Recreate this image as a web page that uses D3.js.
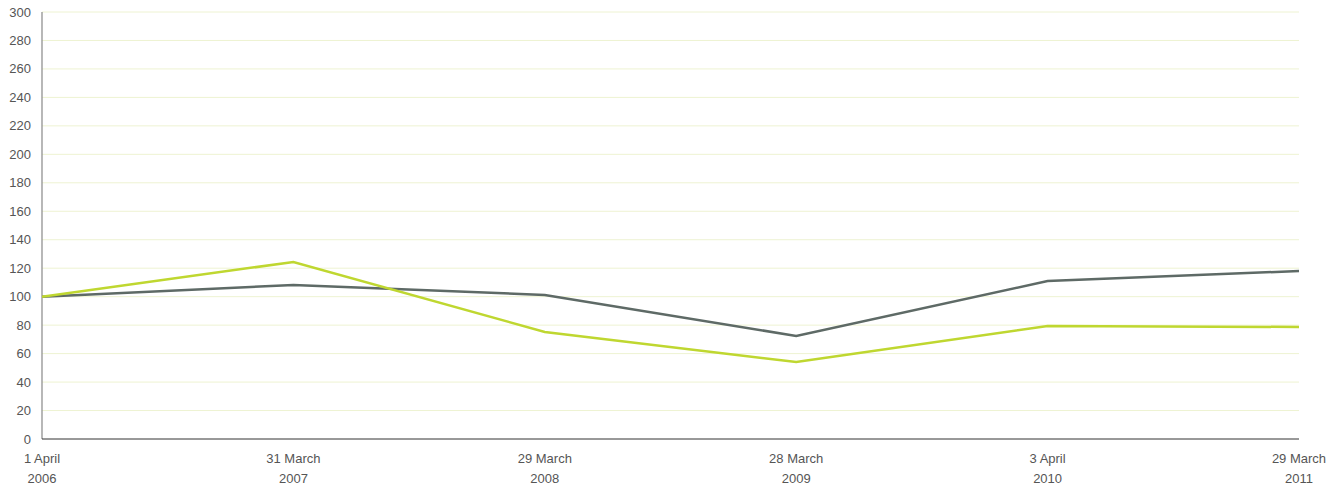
<!DOCTYPE html>
<html>
<head>
<meta charset="utf-8">
<script src="https://cdn.jsdelivr.net/npm/d3@7"></script>
<style>
  body { margin: 0; background: #fff; }
  text { font-family: "Liberation Sans", Arial, sans-serif; font-size: 13px; fill: #555; }
</style>
</head>
<body>
<div id="chart"></div>
<script>
const dates = [
  ["1 April", "2006"],
  ["31 March", "2007"],
  ["29 March", "2008"],
  ["28 March", "2009"],
  ["3 April", "2010"],
  ["29 March", "2011"]
];
const greySeries = [100, 108.2, 101.2, 72.4, 111, 118];
const greenSeries = [100, 124.4, 75.2, 54.1, 79.4, 78.7];
const yTicks = d3.range(0, 301, 20);

const width = 1336, height = 488;
const margin = { top: 12, right: 37, bottom: 49, left: 42 };

const svg = d3.select("#chart").append("svg")
  .attr("width", width)
  .attr("height", height);

const x = d3.scalePoint()
  .domain(d3.range(dates.length))
  .range([margin.left, width - margin.right]);

const y = d3.scaleLinear()
  .domain([0, 300])
  .range([height - margin.bottom, margin.top]);

// gridlines
svg.append("g")
  .selectAll("line")
  .data(yTicks.filter(d => d > 0))
  .enter().append("line")
  .attr("x1", margin.left)
  .attr("x2", width - margin.right)
  .attr("y1", d => y(d))
  .attr("y2", d => y(d))
  .style("stroke", "#eef3d2")
  .style("stroke-width", 1);

// y labels
svg.append("g")
  .selectAll("text")
  .data(yTicks)
  .enter().append("text")
  .attr("x", 31)
  .attr("y", d => y(d))
  .attr("dy", "0.35em")
  .attr("text-anchor", "end")
  .text(d => d);

// axes lines
svg.append("line")
  .attr("x1", margin.left).attr("x2", margin.left)
  .attr("y1", y(300)).attr("y2", y(0))
  .style("stroke", "#888")
  .style("stroke-width", 1.2);

svg.append("line")
  .attr("x1", margin.left).attr("x2", width - margin.right)
  .attr("y1", y(0)).attr("y2", y(0))
  .style("stroke", "#333")
  .style("stroke-width", 1);

// x labels
const xl = svg.append("g")
  .selectAll("text")
  .data(dates)
  .enter().append("text")
  .attr("x", (d, i) => x(i))
  .attr("y", 463)
  .attr("text-anchor", "middle");
xl.append("tspan")
  .attr("x", (d, i) => x(i))
  .text(d => d[0]);
xl.append("tspan")
  .attr("x", (d, i) => x(i))
  .attr("dy", 20)
  .text(d => d[1]);

const line = d3.line()
  .x((d, i) => x(i))
  .y(d => y(d));

svg.append("path")
  .datum(greySeries)
  .attr("d", line)
  .style("fill", "none")
  .style("stroke", "#5e6a66")
  .style("stroke-width", 2.5);

svg.append("path")
  .datum(greenSeries)
  .attr("d", line)
  .style("fill", "none")
  .style("stroke", "#bfd730")
  .style("stroke-width", 2.5);
</script>
</body>
</html>
